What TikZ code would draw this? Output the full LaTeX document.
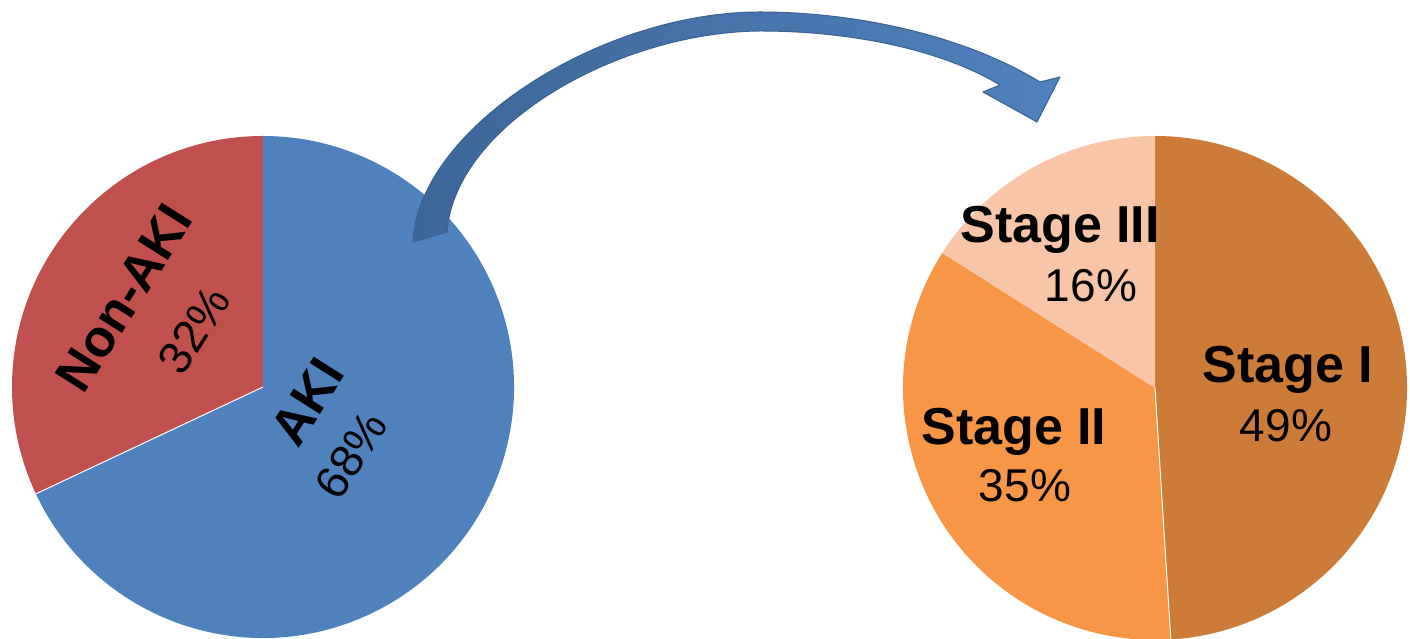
\documentclass[tikz,border=0pt]{standalone}
\usepackage{fontspec}
\setmainfont{Liberation Sans}
\usetikzlibrary{calc}
\definecolor{akiblue}{HTML}{4F81BD}
\definecolor{nonred}{HTML}{C0504D}
\definecolor{stone}{HTML}{CD7B38}
\definecolor{sttwo}{HTML}{F79646}
\definecolor{stthree}{HTML}{F9C5A8}
\definecolor{arrdark}{HTML}{3D6699}
\definecolor{arrline}{HTML}{3A6190}
\tikzset{
  bigbold/.style={font=\fontsize{52}{60}\selectfont\bfseries, inner sep=0pt},
  pct/.style={font=\fontsize{46}{54}\selectfont, inner sep=0pt},
  sep/.style={white, line width=1pt}
}
\begin{document}
\begin{tikzpicture}[x=1pt,y=1pt]
\useasboundingbox (0,0) rectangle (1410,639);
\fill[white] (0,0) rectangle (1410,639);
% ---- left pie ----
\coordinate (L) at (263,252);
\fill[nonred] (L) -- ++(90:251pt) arc[start angle=90,end angle=205.2,radius=251pt] -- cycle;
\fill[akiblue] (L) -- ++(205.2:251pt) arc[start angle=205.2,end angle=450,radius=251pt] -- cycle;
\draw[sep] (L) -- ++(205.2:251pt);
% ---- right pie ----
\coordinate (R) at (1155,251);
\fill[stone] (R) -- ++(90:252pt) arc[start angle=90,end angle=-86.4,radius=252pt] -- cycle;
\fill[sttwo] (R) -- ++(147.6:252pt) arc[start angle=147.6,end angle=273.6,radius=252pt] -- cycle;
\fill[stthree] (R) -- ++(90:252pt) arc[start angle=90,end angle=147.6,radius=252pt] -- cycle;
\draw[sep] (R) -- ++(-86.4:252pt);
% ---- labels left ----
\node[bigbold, rotate=57.6] (nonaki) at (124,341) {Non-AKI};
\node[pct, rotate=57.6] (p32) at (194,309) {32\%};
\node[bigbold, rotate=57.6] (aki) at (307,237) {AKI};
\node[pct, rotate=57.6] (p68) at (351,184) {68\%};
% ---- labels right ----
\node[bigbold, anchor=base] (s1) at (1288,256) {Stage I};
\node[pct, anchor=base] (p49) at (1286,197) {49\%};
\node[bigbold, anchor=base] (s2) at (1014,194) {Stage II};
\node[pct, anchor=base] (p35) at (1025,137) {35\%};
\node[bigbold, anchor=base] (s3) at (1060,396) {Stage III};
\node[pct, anchor=base] (p16) at (1091,337) {16\%};
% ---- curved block arrow ----
\coordinate (tailO) at (413,397);
\coordinate (tailI) at (447,407);
\coordinate (neckO) at (1040,557);
\coordinate (barbR) at (1060,562);
\coordinate (tip) at (1037,517);
\coordinate (barbL) at (983,547);
\coordinate (neckI) at (1000,554);
\draw[arrline, line width=1pt, left color=arrdark, right color=akiblue, line join=round]
  (tailO) .. controls (418,510) and (600,627) .. (760,627)
  .. controls (850,627) and (960,606) .. (neckO)
  -- (barbR) -- (tip) -- (barbL) -- (neckI)
  .. controls (940,590) and (850,608) .. (760,608)
  .. controls (620,607) and (455,515) .. (tailI) -- cycle;
\end{tikzpicture}
\end{document}
